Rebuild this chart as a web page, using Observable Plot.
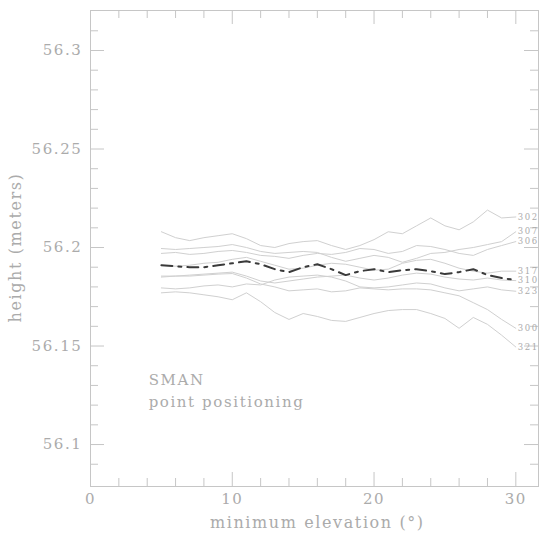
<!DOCTYPE html>
<html><head><meta charset="utf-8">
<script src="https://cdn.jsdelivr.net/npm/d3@7"></script>
<script src="https://cdn.jsdelivr.net/npm/@observablehq/plot@0.6"></script>
<style>body{margin:0;background:#fff}</style>
</head><body><div id="chart"></div>
<script>
const elevation = [5,6,7,8,9,10,11,12,13,14,15,16,17,18,19,20,21,22,23,24,25,26,27,28,29,30];
const station302 = [56.208,56.205,56.2035,56.205,56.206,56.207,56.2045,56.201,56.200,56.202,56.203,56.2035,56.201,56.199,56.201,56.204,56.208,56.207,56.211,56.215,56.211,56.209,56.213,56.219,56.215,56.2155];
const station307 = [56.1995,56.199,56.1995,56.200,56.2005,56.2015,56.200,56.198,56.197,56.1975,56.198,56.1975,56.195,56.193,56.1945,56.196,56.195,56.1925,56.1945,56.197,56.1975,56.199,56.200,56.2015,56.203,56.208];
const station306 = [56.197,56.1975,56.1965,56.197,56.198,56.1985,56.1975,56.196,56.1955,56.1945,56.196,56.197,56.1965,56.1975,56.1995,56.199,56.197,56.198,56.201,56.2005,56.199,56.197,56.196,56.199,56.201,56.203];
const station317 = [56.191,56.1905,56.191,56.192,56.1925,56.194,56.195,56.193,56.191,56.189,56.1895,56.191,56.192,56.1915,56.190,56.1885,56.189,56.192,56.1935,56.194,56.192,56.1895,56.188,56.187,56.188,56.1880];
const station310 = [56.1855,56.1855,56.186,56.1865,56.187,56.1875,56.1855,56.183,56.182,56.183,56.184,56.185,56.1855,56.186,56.1845,56.1835,56.1845,56.186,56.187,56.1865,56.185,56.184,56.1835,56.1845,56.1835,56.1832];
const station323 = [56.1795,56.179,56.1795,56.1805,56.181,56.180,56.1815,56.181,56.1835,56.185,56.1855,56.186,56.185,56.183,56.180,56.1795,56.180,56.181,56.182,56.1815,56.1795,56.178,56.179,56.180,56.1785,56.1778];
const station300 = [56.185,56.1855,56.1855,56.186,56.1865,56.1868,56.1845,56.1815,56.180,56.178,56.1785,56.179,56.1775,56.178,56.1795,56.179,56.1785,56.179,56.179,56.1785,56.177,56.1755,56.172,56.1685,56.1635,56.159];
const station321 = [56.177,56.1775,56.177,56.176,56.175,56.1735,56.177,56.1725,56.167,56.1635,56.1665,56.165,56.163,56.1625,56.1645,56.1665,56.168,56.1685,56.1685,56.1665,56.164,56.159,56.1645,56.161,56.1555,56.1495];
const meanHeight = [56.191,56.1905,56.190,56.190,56.191,56.192,56.193,56.1915,56.189,56.1875,56.190,56.1915,56.189,56.186,56.188,56.189,56.1875,56.1885,56.189,56.188,56.1865,56.1875,56.189,56.186,56.1845,56.1835];
const stationNames = ["302","307","306","317","310","323","300","321"];
const stationValues = [station302,station307,station306,station317,station310,station323,station300,station321];
const xMajorTicks = [0,10,20,30];
const xTickLabels = ["0","10","20","30"];
const xMinorTicks = [2,4,6,8,12,14,16,18,22,24,26,28];
const yMajorTicks = [56.1,56.15,56.2,56.25,56.3];
const yTickLabels = ["56.1","56.15","56.2","56.25","56.3"];
const yMinorTicks = [56.09,56.11,56.12,56.13,56.14,56.16,56.17,56.18,56.19,56.21,56.22,56.23,56.24,56.26,56.27,56.28,56.29,56.31];

const W = 539, H = 539, mL = 90, mR = 1, mT = 10, mB = 53;
const pw = W - mL - mR, ph = H - mT - mB;
const axisColor = "#c6c6c6", textColor = "#ababab", lineColor = "#d0d0d0";
const font = "DejaVu Serif";

const rows = stationNames.flatMap((name, i) => elevation.map((e, j) => ({station: name, elev: e, h: stationValues[i][j]})));
const meanRows = elevation.map((e, j) => ({elev: e, h: meanHeight[j]}));
const endRows = stationNames.map((name, i) => ({station: name, elev: elevation[elevation.length-1], h: stationValues[i][elevation.length-1]}));
const xLab = xMajorTicks.map((v,i)=>({v, t: xTickLabels[i]}));
const yLab = yMajorTicks.map((v,i)=>({v, t: yTickLabels[i]}));

const chart = Plot.plot({
  width: W, height: H,
  marginLeft: mL, marginRight: mR, marginTop: mT, marginBottom: mB,
  x: {domain: [0, 31.6], axis: null},
  y: {domain: [56.0787, 56.3203], axis: null},
  style: {fontFamily: font, background: "#fff", letterSpacing: "1.6px"},
  marks: [
    Plot.frame({stroke: axisColor}),
    Plot.tickX(xMajorTicks, {x: d => d, stroke: axisColor, insetTop: ph - 14}),
    Plot.tickX(xMajorTicks, {x: d => d, stroke: axisColor, insetBottom: ph - 14}),
    Plot.tickX(xMinorTicks, {x: d => d, stroke: axisColor, insetTop: ph - 8}),
    Plot.tickX(xMinorTicks, {x: d => d, stroke: axisColor, insetBottom: ph - 8}),
    Plot.tickY(yMajorTicks, {y: d => d, stroke: axisColor, insetRight: pw - 14}),
    Plot.tickY(yMajorTicks, {y: d => d, stroke: axisColor, insetLeft: pw - 14}),
    Plot.tickY(yMinorTicks, {y: d => d, stroke: axisColor, insetRight: pw - 8}),
    Plot.tickY(yMinorTicks, {y: d => d, stroke: axisColor, insetLeft: pw - 8}),
    Plot.line(rows, {x: "elev", y: "h", z: "station", stroke: lineColor, strokeWidth: 1}),
    Plot.line(meanRows, {x: "elev", y: "h", stroke: "#3a3a3a", strokeWidth: 2, strokeDasharray: "11,6,3,6"}),
    Plot.text(endRows, {x: "elev", y: "h", text: "station", dx: 2, textAnchor: "start", fill: textColor, fontSize: 8.5, style: {letterSpacing: "-0.3px"}}),
    Plot.text(yLab, {y: "v", text: "t", frameAnchor: "left", dx: -8, textAnchor: "end", fill: textColor, fontSize: 15}),
    Plot.text(xLab, {x: "v", text: "t", frameAnchor: "bottom", dy: 17, fill: textColor, fontSize: 15}),
    Plot.text(["minimum elevation (°)"], {x: 16, frameAnchor: "bottom", dy: 41, fill: textColor, fontSize: 16}),
    Plot.text(["height (meters)"], {y: 56.2, frameAnchor: "left", dx: -75, rotate: -90, textAnchor: "middle", fill: textColor, fontSize: 16}),
    Plot.text(["SMAN"], {x: 4.1, y: 56.1325, textAnchor: "start", fill: textColor, fontSize: 15}),
    Plot.text(["point positioning"], {x: 4.1, y: 56.1213, textAnchor: "start", fill: textColor, fontSize: 15})
  ]
});
document.getElementById("chart").appendChild(chart);
</script>
</body></html>
